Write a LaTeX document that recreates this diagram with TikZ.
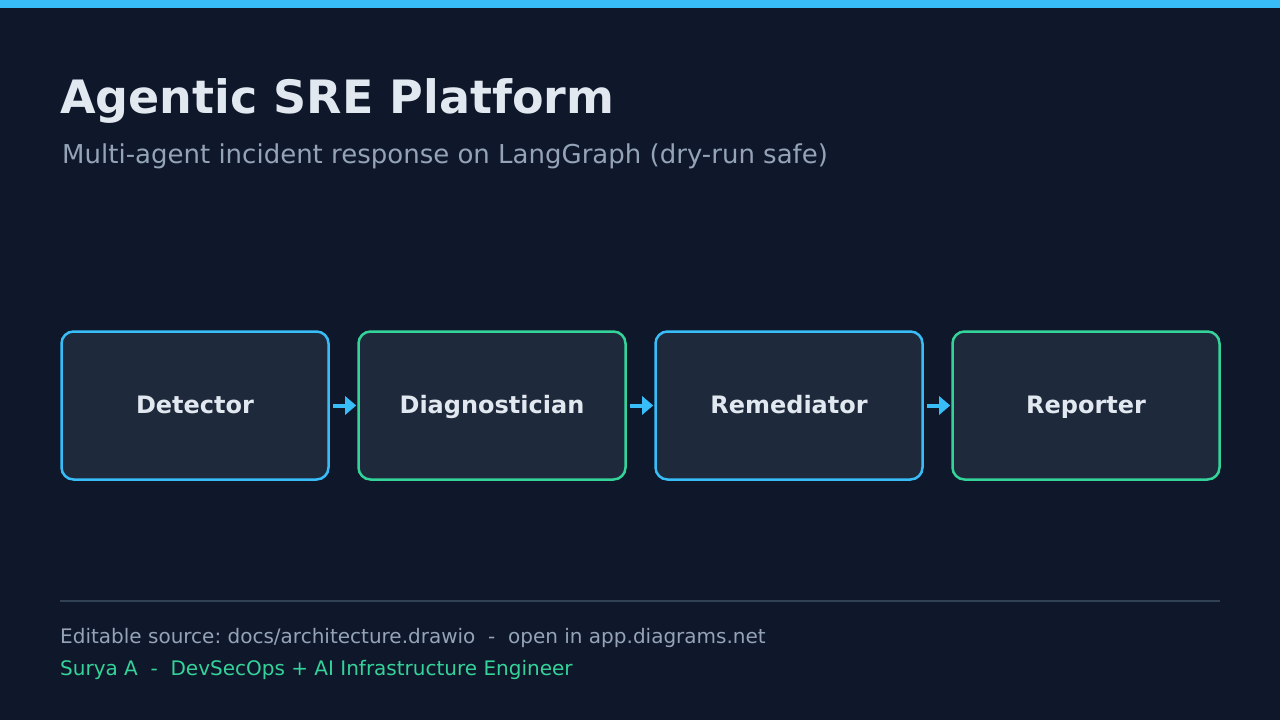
\documentclass[tikz,border=0pt]{standalone}
\usepackage{fontspec}
\setmainfont{DejaVu Sans}
\usetikzlibrary{arrows.meta}
\frenchspacing
\definecolor{bg}{HTML}{0F172A}
\definecolor{bar}{HTML}{38BDF8}
\definecolor{boxfill}{HTML}{1E293B}
\definecolor{blueedge}{HTML}{38BDF8}
\definecolor{greenedge}{HTML}{34D399}
\definecolor{titletext}{HTML}{E2E8F0}
\definecolor{subtext}{HTML}{94A3B8}
\definecolor{sepline}{HTML}{334155}
\tikzset{
  agentbox/.style={draw=#1, fill=boxfill, line width=2.5pt, rounded corners=12pt,
    minimum width=267pt, minimum height=148pt, inner sep=0pt, outer sep=0pt, anchor=north west,
    text=titletext, text height=15pt, text depth=0pt, font=\bfseries\fontsize{24}{28}\selectfont},
  flow/.style={draw=bar, line width=4pt, -{Triangle[length=11pt,width=18pt]}, shorten <=4pt, shorten >=2.3pt},
}
\begin{document}
\begin{tikzpicture}[x=1pt,y=-1pt]
\fill[bg] (0,0) rectangle (1280,720);
\useasboundingbox (0,0) rectangle (1280,720);
\fill[bar] (0,0) rectangle (1280,8);
\node[anchor=base west, inner sep=0pt, text=titletext, font=\bfseries\fontsize{46}{52}\selectfont] (title) at (60,113) {Agentic SRE Platform};
\node[anchor=base west, inner sep=0pt, text=subtext, font=\fontsize{26}{30}\selectfont] (subtitle) at (62,163.5) {Multi-agent incident response on LangGraph (dry-run safe)};
\node[agentbox=blueedge] (det) at (61.5,331.5) {Detector};
\node[agentbox=greenedge] (dia) at (358.5,331.5) {Diagnostician};
\node[agentbox=blueedge] (rem) at (655.5,331.5) {Remediator};
\node[agentbox=greenedge] (rep) at (952.5,331.5) {Reporter};
\draw[flow] (det.east) -- (dia.west);
\draw[flow] (dia.east) -- (rem.west);
\draw[flow] (rem.east) -- (rep.west);
\coordinate (sepl) at (60,601);
\coordinate (sepr) at (1220,601);
\draw[sepline, line width=2pt] (sepl) -- (sepr);
\node[anchor=base west, inner sep=0pt, text=subtext, font=\fontsize{20}{24}\selectfont] (src) at (60,643) {Editable source: docs/architecture.drawio\ \ -\ \ open in app.diagrams.net};
\node[anchor=base west, inner sep=0pt, text=greenedge, font=\fontsize{20}{24}\selectfont] (author) at (60,675) {Surya A\ \ -\ \ DevSecOps + AI Infrastructure Engineer};
\end{tikzpicture}
\end{document}
